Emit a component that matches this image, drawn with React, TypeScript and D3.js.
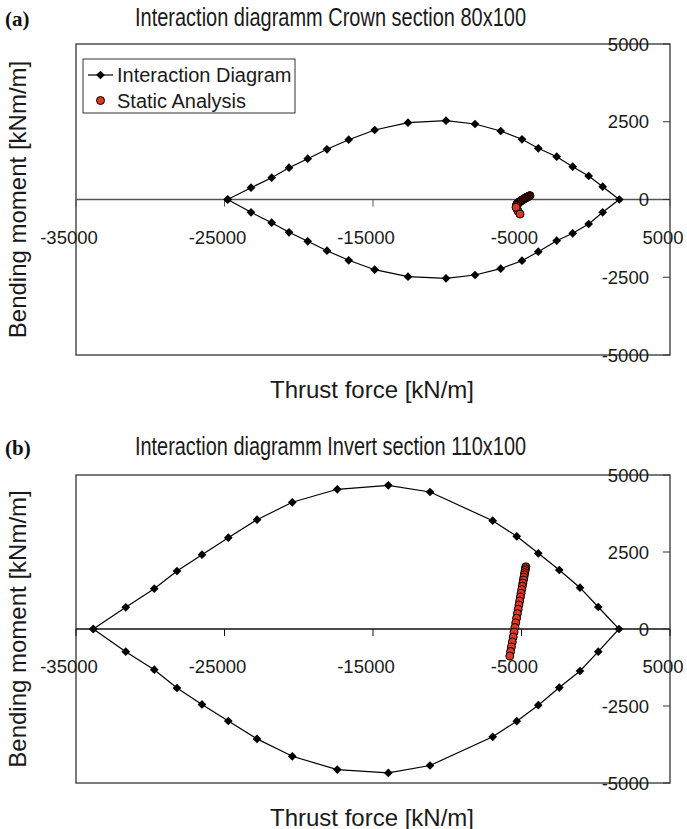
import React from 'react';
import * as d3 from 'd3';

// ---------- data ----------
const xTickValues = [-35000, -25000, -15000, -5000, 5000];
const yTickValues = [5000, 2500, 0, -2500, -5000];
const xTickLabels = ['-35000', '-25000', '-15000', '-5000', '5000'];
const yTickLabels = ['5000', '2500', '0', '-2500', '-5000'];

// (a) Crown section 80x100 – interaction diagram (closed loop: upper branch, then lower branch)
const crownThrust = [
  -24785, -23215, -21822, -20657, -19397, -18098, -16636, -14886, -12643, -10084, -8131, -6401, -4966,
  -3869, -2630, -1552, -475, 468, 1586,
  468, -475, -1552, -2630, -3869, -4966, -6401, -8131, -10084, -12643, -14886, -16636, -18098, -19397,
  -20657, -21822, -23215, -24785,
];
const crownMoment = [
  0, 379, 701, 1023, 1312, 1614, 1923, 2235, 2469, 2534, 2428, 2203, 1936,
  1646, 1376, 1055, 756, 412, 0,
  -412, -788, -1087, -1325, -1678, -1968, -2225, -2428, -2534, -2482, -2257, -1955, -1646, -1344,
  -1055, -746, -412, 0,
];
// (a) static analysis
const crownStaticThrust = [
  -4430, -4480, -4530, -4580, -4630, -4680, -4730, -4780, -4830, -4880, -4930, -4980, -5030, -5080,
  -5130, -5180, -5230, -5270, -5310, -5330, -5340, -5300, -5230, -5100, -5370,
];
const crownStaticMoment = [
  125, 112, 100, 88, 75, 62, 48, 34, 20, 5, -10, -26, -42, -58,
  -75, -93, -112, -132, -155, -180, -205, -300, -380, -466, -250,
];

// (b) Invert section 110x100 – interaction diagram
const invertThrust = [
  -33835, -31650, -29730, -28200, -26515, -24745, -22810, -20435, -17405, -13970, -11160, -6940, -5320,
  -3870, -2455, -1060, 170, 1565,
  170, -1060, -2455, -3870, -5320, -6940, -11160, -13970, -17405, -20435, -22810, -24745, -26515,
  -28200, -29730, -31650, -33835,
];
const invertMoment = [
  0, 705, 1308, 1883, 2412, 2964, 3549, 4114, 4536, 4666, 4448, 3516, 3010,
  2458, 1916, 1341, 714, 0,
  -737, -1364, -1900, -2474, -2994, -3500, -4432, -4672, -4565, -4133, -3568, -2987, -2448,
  -1916, -1321, -737, 0,
];
// (b) static analysis
const invertStaticThrust = [
  -4710, -4732, -4755, -4781, -4807, -4837, -4870, -4907, -4945, -4986, -5030, -5075, -5123,
  -5172, -5224, -5276, -5332, -5388, -5444, -5500, -5559, -5619, -5678, -5734, -5790,
];
const invertStaticMoment = [
  2020, 1960, 1900, 1830, 1760, 1680, 1590, 1490, 1390, 1280, 1160, 1040, 910,
  780, 640, 500, 350, 200, 50, -100, -260, -420, -580, -730, -880,
];

const legendLabels = ['Interaction Diagram', 'Static Analysis'];

// ---------- drawing ----------
const SANS = '"Liberation Sans", Arial, Helvetica, sans-serif';
const SERIF = '"Liberation Serif", "Times New Roman", serif';
const RED = '#e33524';

type PanelProps = {
  top: number;
  bottom: number;
  tag: string;
  title: string;
  titleY: number;
  thrust: number[];
  moment: number[];
  sThrust: number[];
  sMoment: number[];
  zeroColor: string;
  legend: boolean;
};

function Panel(p: PanelProps) {
  const left = 76;
  const right = 670;
  const x = d3.scaleLinear().domain([-35000, 5000]).range([left, right]);
  const y = d3.scaleLinear().domain([-5000, 5000]).range([p.bottom, p.top]);
  const y0 = y(0);
  const pts: [number, number][] = p.thrust.map((t, i) => [x(t), y(p.moment[i])]);
  const path = d3.line()(pts) || '';
  const diamond = d3.symbol(d3.symbolSquare, 38)() || '';
  const midY = (p.top + p.bottom) / 2;

  return (
    <g>
      <text x={5} y={p.titleY} fontFamily={SERIF} fontWeight="bold" fontSize={21} fill="#111">
        {p.tag}
      </text>
      <text x={135} y={p.titleY} fontFamily={SANS} fontSize={25.5} fill="#1a1a1a"
        textLength={391} lengthAdjust="spacingAndGlyphs">
        {p.title}
      </text>
      {/* frame */}
      <rect x={left} y={p.top} width={right - left} height={p.bottom - p.top}
        fill="none" stroke="#333" strokeWidth={1.3} />
      {/* zero line (x axis) */}
      <line x1={left} x2={right} y1={y0} y2={y0} stroke={p.zeroColor} strokeWidth={1.3} />
      {xTickValues.map((v, i) => (
        <g key={'xt' + i}>
          <line x1={x(v)} x2={x(v)} y1={y0} y2={y0 + 7} stroke={p.zeroColor} strokeWidth={1} />
          <text x={x(v) - 7} y={y0 + 44} textAnchor="middle" fontFamily={SANS} fontSize={18.5} fill="#1a1a1a">
            {xTickLabels[i]}
          </text>
        </g>
      ))}
      {yTickValues.map((v, i) => (
        <g key={'yt' + i}>
          <line x1={right - 7} x2={right} y1={y(v)} y2={y(v)} stroke="#333" strokeWidth={1} />
          <text x={right - 21} y={y(v) + 6.5} textAnchor="end" fontFamily={SANS} fontSize={18.5} fill="#1a1a1a">
            {yTickLabels[i]}
          </text>
        </g>
      ))}
      {/* interaction diagram */}
      <path d={path} fill="none" stroke="#000" strokeWidth={1.2} />
      {pts.map((q, i) => (
        <path key={'d' + i} d={diamond} transform={`translate(${q[0]},${q[1]}) rotate(45)`} fill="#000" />
      ))}
      {/* static analysis */}
      {p.sThrust.map((t, i) => (
        <circle key={'s' + i} cx={x(t)} cy={y(p.sMoment[i])} r={4} fill={RED} stroke="#000" strokeWidth={1} />
      ))}
      {/* axis titles */}
      <text x={372} y={p.bottom + 42.5} textAnchor="middle" fontFamily={SANS} fontSize={24} fill="#1a1a1a">
        Thrust force [kN/m]
      </text>
      <text transform={`translate(26,${midY}) rotate(-90)`} textAnchor="middle" fontFamily={SANS}
        fontSize={24} fill="#1a1a1a">
        Bending moment [kNm/m]
      </text>
      {p.legend && (
        <g>
          <rect x={83} y={59} width={212} height={54} fill="#fff" stroke="#333" strokeWidth={1} />
          <line x1={88} x2={113} y1={75} y2={75} stroke="#000" strokeWidth={1.2} />
          <path d={diamond} transform="translate(100.5,75) rotate(45)" fill="#000" />
          <text x={117} y={82} fontFamily={SANS} fontSize={20} fill="#1a1a1a">{legendLabels[0]}</text>
          <circle cx={100.5} cy={100.5} r={4} fill={RED} stroke="#000" strokeWidth={1} />
          <text x={117} y={107.5} fontFamily={SANS} fontSize={20} fill="#1a1a1a">{legendLabels[1]}</text>
        </g>
      )}
    </g>
  );
}

export default function App() {
  return (
    <svg width={687} height={829} viewBox="0 0 687 829"
      style={{ position: 'absolute', left: 0, top: 0, background: '#fff' }}>
      <rect x={0} y={0} width={687} height={829} fill="#fff" />
      <Panel top={44} bottom={355} tag="(a)" title="Interaction diagramm  Crown section 80x100" titleY={26}
        thrust={crownThrust} moment={crownMoment} sThrust={crownStaticThrust} sMoment={crownStaticMoment}
        zeroColor="#555" legend={true} />
      <Panel top={475} bottom={783} tag="(b)" title="Interaction diagramm Invert section 110x100" titleY={455}
        thrust={invertThrust} moment={invertMoment} sThrust={invertStaticThrust} sMoment={invertStaticMoment}
        zeroColor="#111" legend={false} />
    </svg>
  );
}
